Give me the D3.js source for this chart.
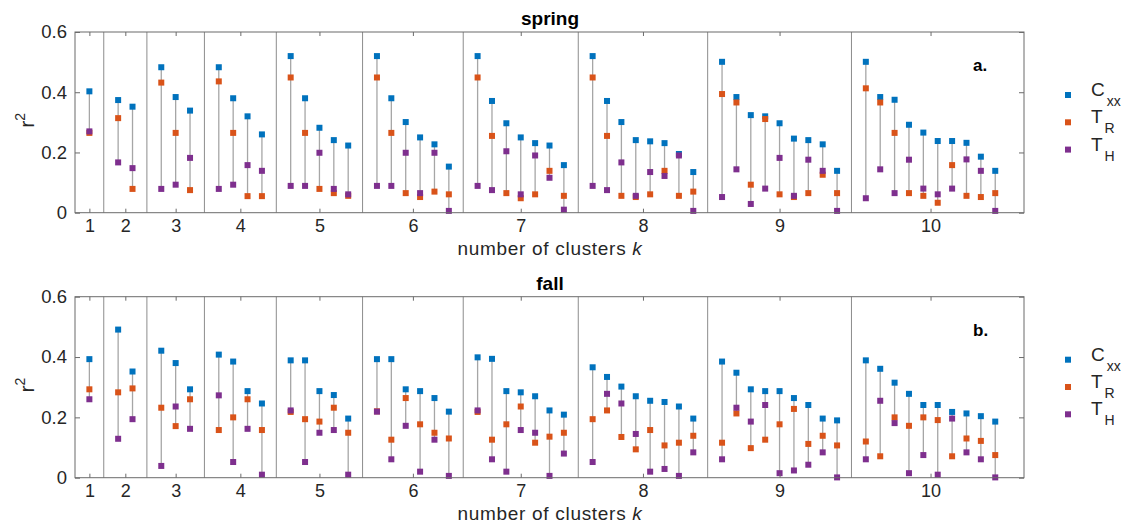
<!DOCTYPE html>
<html>
<head>
<meta charset="utf-8">
<style>
  body { margin: 0; background: #fff; }
  svg { font-family: "Liberation Sans", Arial, sans-serif; }
</style>
<script src="https://cdn.jsdelivr.net/npm/d3@7"></script>
</head>
<body>
<script>
// number of clusters k (group k holds k clusters)
var kValues = [1, 2, 3, 4, 5, 6, 7, 8, 9, 10];
var yTicks = [0, 0.2, 0.4, 0.6];
var seriesNames = ["Cxx", "TR", "TH"];

// spring, values listed cluster by cluster, k = 1..10
var springCxx = [
  0.403,
  0.374, 0.352,
  0.483, 0.384, 0.339,
  0.483, 0.380, 0.320, 0.260,
  0.520, 0.380, 0.282, 0.241, 0.223,
  0.520, 0.380, 0.301, 0.250, 0.227, 0.153,
  0.520, 0.371, 0.297, 0.250, 0.231, 0.223, 0.158,
  0.520, 0.371, 0.301, 0.241, 0.237, 0.231, 0.195, 0.135,
  0.501, 0.384, 0.324, 0.320, 0.297, 0.246, 0.241, 0.227, 0.139,
  0.501, 0.384, 0.375, 0.292, 0.266, 0.238, 0.238, 0.232, 0.186, 0.139];
var springTR = [
  0.265,
  0.314, 0.079,
  0.432, 0.265, 0.075,
  0.436, 0.265, 0.055, 0.055,
  0.449, 0.265, 0.079, 0.065, 0.056,
  0.449, 0.265, 0.065, 0.052, 0.070, 0.061,
  0.449, 0.255, 0.065, 0.048, 0.061, 0.139, 0.056,
  0.449, 0.255, 0.056, 0.052, 0.061, 0.139, 0.056, 0.070,
  0.394, 0.366, 0.093, 0.311, 0.061, 0.052, 0.065, 0.126, 0.065,
  0.413, 0.366, 0.265, 0.065, 0.056, 0.033, 0.158, 0.056, 0.052, 0.065];
var springTH = [
  0.270,
  0.167, 0.148,
  0.079, 0.093, 0.182,
  0.079, 0.093, 0.158, 0.139,
  0.089, 0.089, 0.199, 0.079, 0.061,
  0.089, 0.089, 0.199, 0.065, 0.199, 0.006,
  0.089, 0.075, 0.204, 0.061, 0.190, 0.116, 0.010,
  0.089, 0.075, 0.167, 0.056, 0.135, 0.122, 0.190, 0.006,
  0.052, 0.144, 0.029, 0.080, 0.182, 0.056, 0.176, 0.139, 0.006,
  0.048, 0.144, 0.065, 0.176, 0.080, 0.061, 0.080, 0.177, 0.139, 0.006];

// fall
var fallCxx = [
  0.393,
  0.491, 0.352,
  0.421, 0.380, 0.293,
  0.408, 0.385, 0.287, 0.246,
  0.389, 0.389, 0.287, 0.274, 0.196,
  0.393, 0.393, 0.293, 0.287, 0.264, 0.219,
  0.399, 0.394, 0.287, 0.283, 0.270, 0.223, 0.209,
  0.366, 0.334, 0.302, 0.270, 0.255, 0.251, 0.236, 0.196,
  0.385, 0.348, 0.293, 0.287, 0.287, 0.264, 0.241, 0.196, 0.190,
  0.389, 0.361, 0.315, 0.278, 0.241, 0.241, 0.218, 0.213, 0.204, 0.186];
var fallTR = [
  0.293,
  0.283, 0.296,
  0.232, 0.171, 0.260,
  0.158, 0.200, 0.260, 0.158,
  0.218, 0.194, 0.186, 0.232, 0.149,
  0.220, 0.126, 0.264, 0.177, 0.149, 0.130,
  0.218, 0.126, 0.177, 0.236, 0.116, 0.136, 0.149,
  0.194, 0.223, 0.135, 0.094, 0.158, 0.107, 0.116, 0.139,
  0.116, 0.213, 0.098, 0.126, 0.177, 0.228, 0.112, 0.139, 0.107,
  0.120, 0.071, 0.200, 0.172, 0.200, 0.191, 0.071, 0.130, 0.122, 0.075];
var fallTH = [
  0.260,
  0.129, 0.194,
  0.039, 0.236, 0.162,
  0.273, 0.052, 0.162, 0.010,
  0.223, 0.052, 0.149, 0.158, 0.010,
  0.219, 0.061, 0.172, 0.020, 0.126, 0.006,
  0.223, 0.061, 0.020, 0.158, 0.149, 0.006, 0.080,
  0.052, 0.278, 0.246, 0.145, 0.020, 0.029, 0.006, 0.084,
  0.061, 0.232, 0.186, 0.241, 0.015, 0.024, 0.043, 0.084, 0.001,
  0.061, 0.255, 0.181, 0.015, 0.075, 0.010, 0.196, 0.084, 0.061, 0.001];

var colors = ["#0072BD", "#D95319", "#7E2F8E"];
var axisColor = "#6b6b6b";

var W = 1131, H = 525;
var svg = d3.select("body").append("svg").attr("width", W).attr("height", H);

// slot index of each cluster: groups separated by one empty slot
var slots = [], groupCenter = [], separators = [];
var s = 1;
kValues.forEach(function(k, gi) {
  var first = s;
  for (var i = 0; i < k; i++) { slots.push(s); s++; }
  groupCenter.push((first + s - 1) / 2);
  if (gi < kValues.length - 1) separators.push(s);
  s++;
});
var nSlots = s; // 65

var x = d3.scaleLinear().domain([0, nSlots]).range([75, 1024]);

function panel(top, bottom, title, tag, cxx, tr, th) {
  var y = d3.scaleLinear().domain([0, 0.6]).range([bottom, top]);
  var g = svg.append("g");

  // group separators
  g.selectAll("line.sep").data(separators).enter().append("line")
    .attr("x1", d => x(d)).attr("x2", d => x(d))
    .attr("y1", y(0)).attr("y2", y(0.6))
    .attr("stroke", "#8c8c8c").attr("stroke-width", 1);

  var rows = slots.map(function(sl, i) {
    return { slot: sl, v: [cxx[i], tr[i], th[i]] };
  });

  // min-max connector
  g.selectAll("line.rng").data(rows).enter().append("line")
    .attr("x1", d => x(d.slot)).attr("x2", d => x(d.slot))
    .attr("y1", d => y(d3.min(d.v))).attr("y2", d => y(d3.max(d.v)))
    .attr("stroke", "#a6a6a6").attr("stroke-width", 1.3);

  // markers
  [0, 1, 2].forEach(function(si) {
    g.selectAll("rect.m" + si).data(rows).enter().append("rect")
      .attr("x", d => x(d.slot) - 3).attr("y", d => y(d.v[si]) - 3)
      .attr("width", 6).attr("height", 6)
      .attr("fill", colors[si]);
  });

  // axes box
  g.append("rect").attr("x", x(0)).attr("y", y(0.6))
    .attr("width", x(nSlots) - x(0)).attr("height", y(0) - y(0.6))
    .attr("fill", "none").attr("stroke", axisColor).attr("stroke-width", 1);

  // y ticks inside, both sides
  var ya = d3.axisLeft(y).tickValues(yTicks).tickSize(-5).tickPadding(8)
    .tickFormat(d => d === 0 ? "0" : d3.format(".1f")(d));
  var yg = g.append("g").attr("transform", "translate(" + x(0) + ",0)").call(ya);
  yg.select(".domain").remove();
  yg.selectAll("line").attr("stroke", axisColor);
  yg.selectAll("text").attr("font-size", 18.5).attr("fill", "#262626")
    .attr("font-family", "Liberation Sans, Arial, sans-serif");
  var yr = g.append("g").attr("transform", "translate(" + x(nSlots) + ",0)")
    .call(d3.axisRight(y).tickValues(yTicks).tickSize(-5).tickFormat(""));
  yr.select(".domain").remove();
  yr.selectAll("line").attr("stroke", axisColor);

  // x ticks at group centres
  var xa = d3.axisBottom(x).tickValues(groupCenter).tickSize(-4).tickPadding(7)
    .tickFormat((d, i) => kValues[i]);
  var xg = g.append("g").attr("transform", "translate(0," + y(0) + ")").call(xa);
  xg.select(".domain").remove();
  xg.selectAll("line").attr("stroke", axisColor);
  xg.selectAll("text").attr("font-size", 18).attr("fill", "#262626")
    .attr("font-family", "Liberation Sans, Arial, sans-serif");
  var xt = g.append("g").attr("transform", "translate(0," + y(0.6) + ")")
    .call(d3.axisTop(x).tickValues(groupCenter).tickSize(-4).tickFormat(""));
  xt.select(".domain").remove();
  xt.selectAll("line").attr("stroke", axisColor);

  // x label
  var xl = g.append("text").attr("x", 550).attr("y", y(0) + 42)
    .attr("text-anchor", "middle").attr("font-size", 19)
    .attr("letter-spacing", 0.7).attr("fill", "#262626");
  xl.append("tspan").text("number of clusters ");
  xl.append("tspan").attr("font-style", "italic").text("k");

  // y label r^2
  var yl = g.append("text")
    .attr("transform", "translate(34," + (y(0.3) - 2) + ") rotate(-90)")
    .attr("text-anchor", "middle").attr("font-size", 21).attr("fill", "#262626");
  yl.append("tspan").text("r");
  yl.append("tspan").attr("font-size", 14).attr("dy", -9).text("2");

  // title
  g.append("text").attr("x", 550).attr("y", top - 7)
    .attr("text-anchor", "middle").attr("font-size", 19).attr("font-weight", "bold")
    .text(title);

  // panel tag
  g.append("text").attr("x", 973).attr("y", top + 39)
    .attr("font-size", 17).attr("font-weight", "bold").text(tag);

  // legend
  var ly = top + 63;
  var labels = [["C", "xx"], ["T", "R"], ["T", "H"]];
  var lg = g.append("g");
  lg.selectAll("rect").data(labels).enter().append("rect")
    .attr("x", 1065).attr("y", (d, i) => ly + i * 27.3 - 3)
    .attr("width", 6).attr("height", 6)
    .attr("fill", (d, i) => colors[i]);
  var lt = lg.selectAll("text").data(labels).enter().append("text")
    .attr("x", 1091).attr("y", (d, i) => ly + i * 27.3 + 1)
    .attr("font-size", 19).attr("fill", "#262626");
  lt.append("tspan").text(d => d[0]);
  lt.append("tspan").attr("font-size", 14).attr("dx", 2).attr("dy", 10).text(d => d[1]);
}

panel(32, 212.7, "spring", "a.", springCxx, springTR, springTH);
panel(296.7, 477.7, "fall", "b.", fallCxx, fallTR, fallTH);
</script>
</body>
</html>
